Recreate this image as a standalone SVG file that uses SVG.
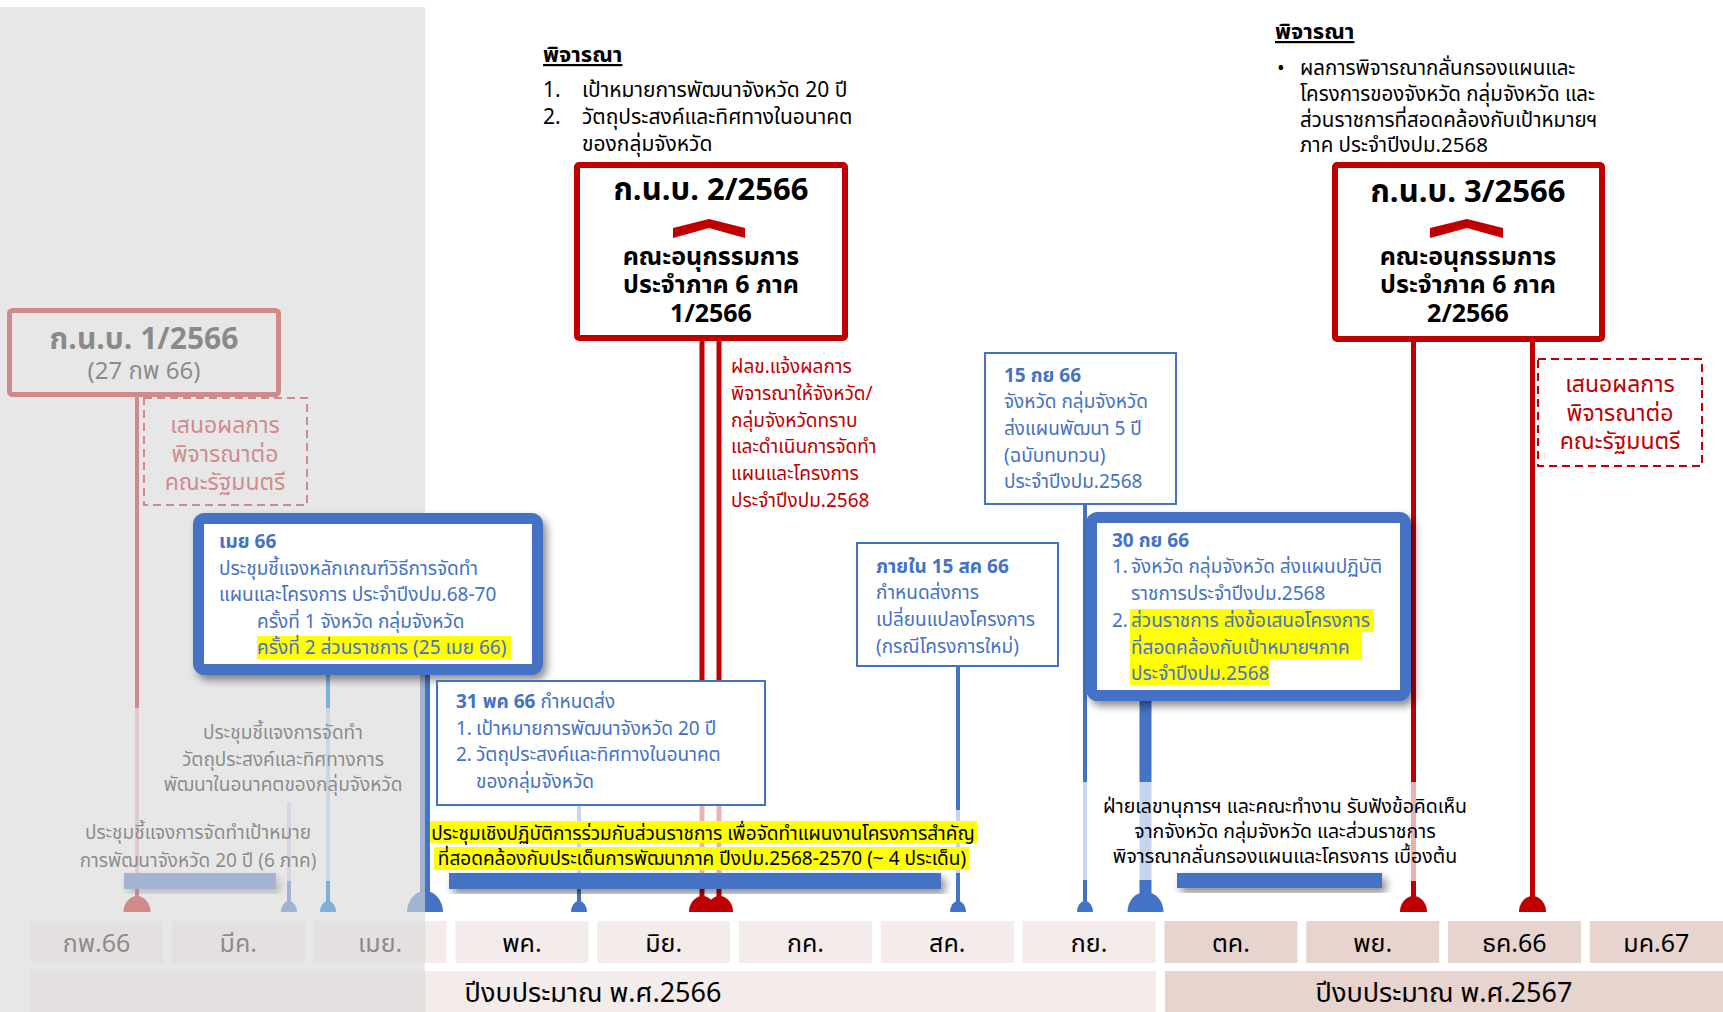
<svg xmlns="http://www.w3.org/2000/svg" width="1723" height="1012" viewBox="0 0 1723 1012">
<style>
text{font-family:Tahoma,"Noto Sans Thai","Noto Sans","DejaVu Sans",sans-serif;font-size:19px;fill:#000}
.b{font-weight:bold}
.blue{fill:#4472c4}
.red{fill:#c00000}
.c{text-anchor:middle}
.mon{font-size:25px;text-anchor:middle}
.yr{font-size:27px;text-anchor:middle}
.mb1{fill:#f3ecea}
.mb2{fill:#e7d4ce}
.redbox{fill:#fff;stroke:#c00000;stroke-width:6}
.thin{fill:#fff;stroke:#4472c4;stroke-width:2}
.thick{fill:#fff;stroke:#4472c4;stroke-width:11}
.dash{fill:none;stroke:#c00000;stroke-width:2;stroke-dasharray:8 5}
.hl{fill:#ffff00}
.title{font-size:31px;font-weight:bold;text-anchor:middle}
.sub{font-size:25px;font-weight:bold;text-anchor:middle}
.bar{fill:#4472c4}
.pale{opacity:.3}
.ul{text-decoration:underline;font-weight:bold;font-size:22px}
</style>
<defs>
<filter id="sh" x="-10%" y="-10%" width="130%" height="140%">
<feDropShadow dx="4" dy="5" stdDeviation="4" flood-color="#000" flood-opacity=".45"/>
</filter>
</defs>
<rect width="1723" height="1012" fill="#fff"/>

<g id="timeline">
<rect class="mb1" x="30" y="921" width="133" height="42"/>
<rect class="mb1" x="171.8" y="921" width="133" height="42"/>
<rect class="mb1" x="313.6" y="921" width="133" height="42"/>
<rect class="mb1" x="455.4" y="921" width="133" height="42"/>
<rect class="mb1" x="597.2" y="921" width="133" height="42"/>
<rect class="mb1" x="739" y="921" width="133" height="42"/>
<rect class="mb1" x="880.8" y="921" width="133" height="42"/>
<rect class="mb1" x="1022.6" y="921" width="133" height="42"/>
<rect class="mb2" x="1164.4" y="921" width="133" height="42"/>
<rect class="mb2" x="1306.2" y="921" width="133" height="42"/>
<rect class="mb2" x="1448" y="921" width="133" height="42"/>
<rect class="mb2" x="1589.8" y="921" width="133.2" height="42"/>
<text class="mon" x="96.5" y="952">กพ.66</text>
<text class="mon" x="238.3" y="952">มีค.</text>
<text class="mon" x="380.1" y="952">เมย.</text>
<text class="mon" x="521.9" y="952">พค.</text>
<text class="mon" x="663.7" y="952">มิย.</text>
<text class="mon" x="805.5" y="952">กค.</text>
<text class="mon" x="947.3" y="952">สค.</text>
<text class="mon" x="1089.1" y="952">กย.</text>
<text class="mon" x="1230.9" y="952">ตค.</text>
<text class="mon" x="1372.7" y="952">พย.</text>
<text class="mon" x="1514.5" y="952">ธค.66</text>
<text class="mon" x="1656.3" y="952">มค.67</text>
<rect class="mb1" x="30" y="971" width="1126" height="41"/>
<rect class="mb2" x="1165" y="971" width="558" height="41"/>
<text class="yr" x="593" y="1002">ปีงบประมาณ พ.ศ.2566</text>
<text class="yr" x="1444" y="1002">ปีงบประมาณ พ.ศ.2567</text>
</g>

<g id="connectors">
<g fill="#c00000">
<rect x="135" y="397" width="4" height="311"/>
<rect class="pale" x="135" y="708" width="4" height="180"/>
<rect x="135" y="888" width="4" height="20"/>
<path d="M123.5 912 A13.5 16 0 0 1 150.5 912 Z"/>
</g>
<g fill="#4472c4">
<rect class="pale" x="287" y="802" width="4" height="79"/>
<rect x="287" y="881" width="4" height="24"/>
<path d="M281 912 A8 11 0 0 1 297 912 Z"/>
</g>
<g fill="#4472c4">
<rect x="420" y="672" width="10" height="230"/>
<path d="M407 912 A18 21 0 0 1 443 912 Z"/>
</g>
<g fill="#4472c4">
<rect class="pale" x="577" y="805" width="4" height="68"/>
<rect x="577" y="873" width="4" height="32"/>
<path d="M571 912 A8 11 0 0 1 587 912 Z"/>
</g>
<g fill="#c00000">
<rect x="699.5" y="341" width="5" height="464"/>
<rect x="716.5" y="341" width="5" height="464"/>
<rect class="pale" x="699.5" y="805" width="5" height="68"/>
<rect class="pale" x="716.5" y="805" width="5" height="68"/>
<rect x="699.5" y="873" width="5" height="30"/>
<rect x="716.5" y="873" width="5" height="30"/>
<path d="M689 912 A13.5 16 0 0 1 716 912 Z"/>
<path d="M706 912 A13.5 16 0 0 1 733 912 Z"/>
</g>
<g fill="#4472c4">
<rect x="956" y="667" width="4" height="143"/>
<rect class="pale" x="956" y="810" width="4" height="63"/>
<rect x="956" y="873" width="4" height="32"/>
<path d="M950 912 A8 11 0 0 1 966 912 Z"/>
</g>
<g fill="#4472c4">
<rect x="1083" y="504" width="4" height="278"/>
<rect class="pale" x="1083" y="782" width="4" height="98"/>
<rect x="1083" y="880" width="4" height="25"/>
<path d="M1077 912 A8 11 0 0 1 1093 912 Z"/>
</g>
<g fill="#4472c4">
<rect x="1139.5" y="701" width="12" height="81"/>
<rect class="pale" x="1139.5" y="782" width="12" height="98"/>
<rect x="1139.5" y="880" width="12" height="22"/>
<path d="M1127.5 912 A18 20 0 0 1 1163.5 912 Z"/>
</g>
<g fill="#c00000">
<rect x="1411" y="342" width="5" height="440"/>
<rect class="pale" x="1411" y="782" width="5" height="99"/>
<rect x="1411" y="881" width="5" height="22"/>
<path d="M1400 912 A13.5 16 0 0 1 1427 912 Z"/>
</g>
<g fill="#c00000">
<rect x="1530" y="342" width="5" height="562"/>
<path d="M1519 912 A13.5 16 0 0 1 1546 912 Z"/>
</g>
</g>

<g id="bars">
<rect class="bar" x="124" y="873" width="152" height="16" filter="url(#sh)"/>
<rect class="bar" x="449" y="873" width="492" height="16" filter="url(#sh)"/>
<rect class="bar" x="1177" y="873" width="205" height="15" filter="url(#sh)"/>
</g>

<g id="knb1">
<rect x="9.5" y="310.5" width="269" height="84" rx="3" fill="#fff" stroke="#c00000" stroke-width="5"/>
<text class="c" x="144" y="349"><tspan class="b" style="font-size:30px">ก.น.บ. 1/2566</tspan><tspan x="144" dy="30" style="font-size:24px">(27 กพ 66)</tspan></text>
</g>

<g id="cabinet1">
<rect class="dash" x="144" y="398" width="163" height="107"/>
<text class="red c" x="225" y="433" style="font-size:23px">เสนอผลการ<tspan x="225" dy="29">พิจารณาต่อ</tspan><tspan x="225" dy="28">คณะรัฐมนตรี</tspan></text>
</g>

<g id="note-left">
<text class="c" x="283" y="739">ประชุมชี้แจงการจัดทำ<tspan x="283" dy="27">วัตถุประสงค์และทิศทางการ</tspan><tspan x="283" dy="25">พัฒนาในอนาคตของกลุ่มจังหวัด</tspan></text>
<text class="c" x="198" y="839">ประชุมชี้แจงการจัดทำเป้าหมาย<tspan x="198" dy="28">การพัฒนาจังหวัด 20 ปี (6 ภาค)</tspan></text>
</g>

<rect x="0" y="7" width="425" height="1005" fill="#d9d9d9" opacity=".635"/>

<g id="lightblue-line" fill="#7eb0d6">
<rect x="326" y="675" width="4" height="33"/>
<rect class="pale" x="326" y="708" width="4" height="173"/>
<rect x="326" y="881" width="4" height="22"/>
<path d="M320 912 A8 11 0 0 1 336 912 Z"/>
</g>

<g id="apr66">
<rect class="thick" x="198.5" y="518.5" width="339" height="151" rx="6" filter="url(#sh)"/>
<rect class="hl" x="257" y="636" width="254" height="23"/>
<text class="blue" x="219" y="548"><tspan class="b">เมย 66</tspan><tspan x="219" dy="27">ประชุมชี้แจงหลักเกณฑ์วิธีการจัดทำ</tspan><tspan x="219" dy="26">แผนและโครงการ ประจำปีงปม.68-70</tspan><tspan x="257" dy="27">ครั้งที่ 1 จังหวัด กลุ่มจังหวัด</tspan><tspan x="257" dy="26">ครั้งที่ 2 ส่วนราชการ (25 เมย 66)</tspan></text>
</g>

<g id="consider1">
<text class="ul" x="543" y="62">พิจารณา</text>
<text x="543" y="97" style="font-size:21px">1.<tspan x="543" dy="27">2.</tspan></text>
<text x="582" y="97" style="font-size:21px">เป้าหมายการพัฒนาจังหวัด 20 ปี<tspan x="582" dy="27">วัตถุประสงค์และทิศทางในอนาคต</tspan><tspan x="582" dy="27">ของกลุ่มจังหวัด</tspan></text>
</g>

<g id="knb2">
<rect class="redbox" x="577" y="165" width="268" height="173" rx="2"/>
<text class="title" x="711" y="200">ก.น.บ. 2/2566</text>
<polygon points="673,238 673,228 709,219 745,228 745,238 709,228" fill="#c00000"/>
<text class="sub" x="711" y="265">คณะอนุกรรมการ<tspan x="711" dy="28">ประจำภาค 6 ภาค</tspan><tspan x="711" dy="29">1/2566</tspan></text>
</g>

<g id="notify">
<text class="red" x="731" y="373">ฝลข.แจ้งผลการ<tspan x="731" dy="27">พิจารณาให้จังหวัด/</tspan><tspan x="731" dy="27">กลุ่มจังหวัดทราบ</tspan><tspan x="731" dy="26">และดำเนินการจัดทำ</tspan><tspan x="731" dy="27">แผนและโครงการ</tspan><tspan x="731" dy="27">ประจำปีงปม.2568</tspan></text>
</g>

<g id="may31">
<rect class="thin" x="437" y="681" width="328" height="124"/>
<text class="blue" x="456" y="708"><tspan class="b">31 พค 66</tspan> กำหนดส่ง<tspan x="456" dy="27">1.</tspan><tspan x="476">เป้าหมายการพัฒนาจังหวัด 20 ปี</tspan><tspan x="456" dy="26">2.</tspan><tspan x="476">วัตถุประสงค์และทิศทางในอนาคต</tspan><tspan x="476" dy="27">ของกลุ่มจังหวัด</tspan></text>
</g>

<g id="workshop">
<rect class="hl" x="430" y="821" width="547" height="22"/>
<rect class="hl" x="434" y="847" width="535" height="23"/>
<text class="c" x="703" y="840">ประชุมเชิงปฏิบัติการร่วมกับส่วนราชการ เพื่อจัดทำแผนงานโครงการสำคัญ<tspan x="702" dy="25">ที่สอดคล้องกับประเด็นการพัฒนาภาค ปีงปม.2568-2570 (~ 4 ประเด็น)</tspan></text>
</g>

<g id="aug15">
<rect class="thin" x="857" y="543" width="201" height="123"/>
<text class="blue" x="876" y="573"><tspan class="b">ภายใน 15 สค 66</tspan><tspan x="876" dy="26">กำหนดส่งการ</tspan><tspan x="876" dy="27">เปลี่ยนแปลงโครงการ</tspan><tspan x="876" dy="27">(กรณีโครงการใหม่)</tspan></text>
</g>

<g id="sep15">
<rect class="thin" x="985" y="353" width="191" height="151"/>
<text class="blue" x="1004" y="382"><tspan class="b">15 กย 66</tspan><tspan x="1004" dy="26">จังหวัด กลุ่มจังหวัด</tspan><tspan x="1004" dy="27">ส่งแผนพัฒนา 5 ปี</tspan><tspan x="1004" dy="27">(ฉบับทบทวน)</tspan><tspan x="1004" dy="26">ประจำปีงปม.2568</tspan></text>
</g>

<g id="sep30">
<rect class="thick" x="1091.5" y="517.5" width="314" height="178" rx="6" filter="url(#sh)"/>
<rect class="hl" x="1130" y="609" width="244" height="23"/>
<rect class="hl" x="1130" y="632" width="232" height="27"/>
<rect class="hl" x="1130" y="659" width="139" height="26"/>
<text class="blue" x="1112" y="547"><tspan class="b">30 กย 66</tspan><tspan x="1112" dy="26">1.</tspan><tspan x="1131">จังหวัด กลุ่มจังหวัด ส่งแผนปฏิบัติ</tspan><tspan x="1131" dy="27">ราชการประจำปีงปม.2568</tspan><tspan x="1112" dy="27">2.</tspan><tspan x="1131">ส่วนราชการ ส่งข้อเสนอโครงการ</tspan><tspan x="1131" dy="27">ที่สอดคล้องกับเป้าหมายฯภาค</tspan><tspan x="1131" dy="26">ประจำปีงปม.2568</tspan></text>
</g>

<g id="secretariat">
<text class="c" x="1285" y="813" style="font-size:19.5px">ฝ่ายเลขานุการฯ และคณะทำงาน รับฟังข้อคิดเห็น<tspan x="1285" dy="25">จากจังหวัด กลุ่มจังหวัด และส่วนราชการ</tspan><tspan x="1285" dy="25">พิจารณากลั่นกรองแผนและโครงการ เบื้องต้น</tspan></text>
</g>

<g id="consider2">
<text class="ul" x="1275" y="39">พิจารณา</text>
<text x="1277" y="75" style="font-size:20.5px">•</text>
<text x="1300" y="75" style="font-size:20.5px">ผลการพิจารณากลั่นกรองแผนและ<tspan x="1300" dy="26">โครงการของจังหวัด กลุ่มจังหวัด และ</tspan><tspan x="1300" dy="26">ส่วนราชการที่สอดคล้องกับเป้าหมายฯ</tspan><tspan x="1300" dy="25">ภาค ประจำปีงปม.2568</tspan></text>
</g>

<g id="knb3">
<rect class="redbox" x="1335" y="165" width="267" height="174" rx="2"/>
<text class="title" x="1468" y="202">ก.น.บ. 3/2566</text>
<polygon points="1430,238 1430,228 1467,219 1503,228 1503,238 1467,228" fill="#c00000"/>
<text class="sub" x="1468" y="265">คณะอนุกรรมการ<tspan x="1468" dy="28">ประจำภาค 6 ภาค</tspan><tspan x="1468" dy="29">2/2566</tspan></text>
</g>

<g id="cabinet2">
<rect class="dash" x="1538" y="359" width="164" height="107"/>
<text class="red c" x="1620" y="392" style="font-size:23px">เสนอผลการ<tspan x="1620" dy="29">พิจารณาต่อ</tspan><tspan x="1620" dy="28">คณะรัฐมนตรี</tspan></text>
</g>
</svg>
